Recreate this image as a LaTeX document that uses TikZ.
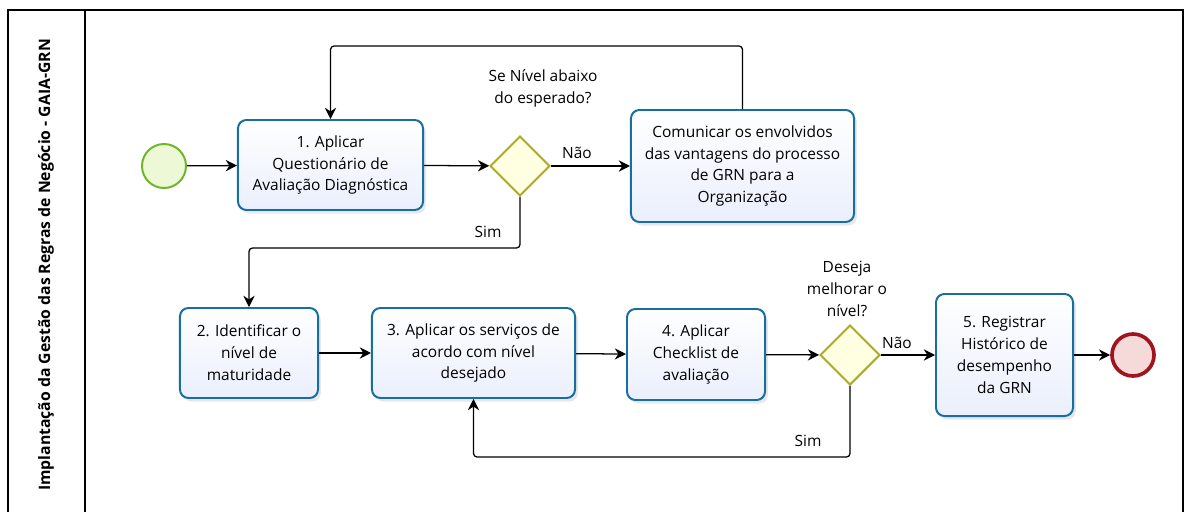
\documentclass[tikz,border=0pt]{standalone}
\usepackage{fontspec}
\setmainfont{Open Sans}
\usetikzlibrary{arrows.meta,shapes.geometric,shadows}
\definecolor{taskline}{RGB}{24,110,160}
\definecolor{taskfill}{RGB}{234,239,252}
\definecolor{gateline}{RGB}{172,170,40}
\definecolor{gatefill}{RGB}{255,255,226}
\definecolor{startline}{RGB}{112,180,40}
\definecolor{startfill}{RGB}{236,248,214}
\definecolor{endline}{RGB}{160,20,30}
\definecolor{endfill}{RGB}{246,218,218}
\tikzset{
  task/.style={rectangle, rounded corners=6pt, draw=taskline, line width=1.4pt,
    top color=white, bottom color=taskfill,
    align=center, font=\fontsize{11}{15.6}\selectfont,
    drop shadow={opacity=0.18, shadow xshift=2pt, shadow yshift=-2.5pt}},
  gate/.style={diamond, draw=gateline, line width=1.4pt, fill=gatefill, minimum size=1.5cm, inner sep=0pt},
  startev/.style={circle, draw=startline, line width=1.4pt, fill=startfill, minimum size=1.1cm, inner sep=0pt},
  endev/.style={circle, draw=endline, line width=2.6pt, fill=endfill, minimum size=1.05cm, inner sep=0pt},
  lbl/.style={align=center, font=\fontsize{11}{15.6}\selectfont},
  flow/.style={-{Stealth[length=8pt,width=8pt]}, line width=0.9pt, rounded corners=2.5pt}
}
\begin{document}
\begin{tikzpicture}[x=0.025cm, y=-0.025cm]
\useasboundingbox (0,0) rectangle (1192,512);
\draw[line width=0.9pt] (8,512) -- (8,10) -- (1183,10) -- (1183,512);
\draw[line width=0.9pt] (85,10) -- (85,512);
\node[rotate=90, font=\bfseries\fontsize{11.2}{12}\selectfont] (lane) at (46,265) {Implantação da Gestão das Regras de Negócio - GAIA-GRN};

\node[startev] (S) at (164,166) {};
\node[task, minimum width=4.625cm, minimum height=2.25cm] (T1) at (330.5,165) {1. Aplicar\\Questionário de\\Avaliação Diagnóstica};
\node[gate] (G1) at (520,166) {};
\node[task, minimum width=5.575cm, minimum height=2.8cm] (C) at (742.5,166) {Comunicar os envolvidos\\das vantagens do processo\\de GRN para a\\Organização};
\node[task, minimum width=3.45cm, minimum height=2.25cm] (T2) at (249,353) {2. Identificar o\\nível de\\maturidade};
\node[task, minimum width=5.075cm, minimum height=2.25cm] (T3) at (473.5,353) {3. Aplicar os serviços de\\acordo com nível\\desejado};
\node[task, minimum width=3.45cm, minimum height=2.275cm] (T4) at (696,354.5) {4. Aplicar\\Checklist de\\avaliação};
\node[gate] (G2) at (850,355) {};
\node[task, minimum width=3.425cm, minimum height=3.05cm] (T5) at (1004.5,355) {5. Registrar\\Histórico de\\desempenho\\da GRN};
\node[endev] (E) at (1133,355) {};

\coordinate (L1) at (540,46);
\coordinate (L2) at (400,248);
\coordinate (L3) at (660,457);

\node[lbl] (q1) at (543,88) {Se Nível abaixo\\do esperado?};
\node[lbl] (q2) at (847,289) {Deseja\\melhorar o\\nível?};
\node[lbl] (n1) at (577,153) {Não};
\node[lbl] (s1) at (488,232) {Sim};
\node[lbl] (n2) at (897,343) {Não};
\node[lbl] (s2) at (808,441) {Sim};

\draw[flow] (S) -- (T1);
\draw[flow] (T1) -- (G1);
\draw[flow] (G1) -- (C);
\draw[flow] (C.north) |- (L1) -| (T1.north);
\draw[flow] (G1.south) |- (L2) -| (T2.north);
\draw[flow] (T2) -- (T3);
\draw[flow] (T3) -- (T4);
\draw[flow] (T4) -- (G2);
\draw[flow] (G2) -- (T5);
\draw[flow] (G2.south) |- (L3) -| (T3.south);
\draw[flow] (T5) -- (E);
\end{tikzpicture}
\end{document}
